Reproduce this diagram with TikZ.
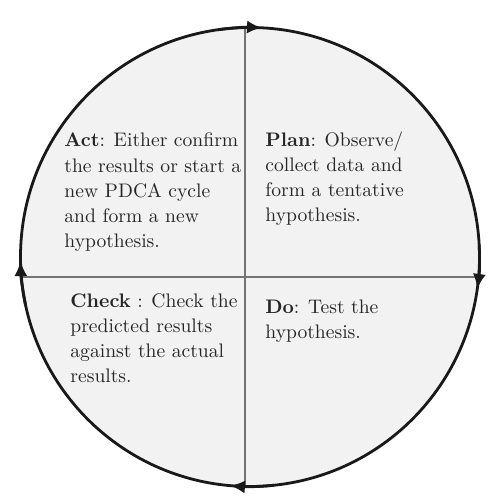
\documentclass[tikz,border=0pt]{standalone}
\usepackage{tikz}
\usetikzlibrary{arrows.meta}

\begin{document}
\begin{tikzpicture}
  [x=0.5pt,y=0.5pt,
   every node/.style={align=left,inner sep=0pt,anchor=base west,text=black!85,
     font=\fontsize{9.8}{12.65}\selectfont},
   rim/.style={line width=1.4pt,black!90},
   divider/.style={line width=0.9pt,black!55},
   tip/.style={rim,-{Latex[length=7.5pt,width=6.5pt]}}]
  \useasboundingbox (0,0) rectangle (499,503);

  \coordinate (c) at (250,246);
  \coordinate (top) at (245,475.4);
  \coordinate (bottom) at (245,16.6);
  \coordinate (left) at (21.4,226);
  \coordinate (right) at (478.6,226);

  \fill[black!5] (c) circle[radius=229.5];
  \draw[divider] (top) -- (bottom);
  \draw[divider] (left) -- (right);
  \draw[rim] (c) circle[radius=229.5];

  \draw[tip] (c) ++(98:229.5) arc[start angle=98,end angle=87,radius=229.5];
  \draw[tip] (c) ++(3:229.5) arc[start angle=3,end angle=-8,radius=229.5];
  \draw[tip] (c) ++(-84:229.5) arc[start angle=-84,end angle=-95,radius=229.5];
  \draw[tip] (c) ++(192:229.5) arc[start angle=192,end angle=181,radius=229.5];

  % base anchor sits on the last line
  \node (act) at (64,255) {\textbf{Act}: Either confirm\\the results or start a\\new PDCA cycle\\and form a new\\hypothesis.};
  \node (plan) at (265,281) {\textbf{Plan}: Observe/\\collect data and\\form a tentative\\hypothesis.};
  \node (check) at (70,120) {\textbf{Check} : Check the\\predicted results\\against the actual\\results.};
  \node (do) at (265,164) {\textbf{Do}: Test the\\hypothesis.};
\end{tikzpicture}
\end{document}
